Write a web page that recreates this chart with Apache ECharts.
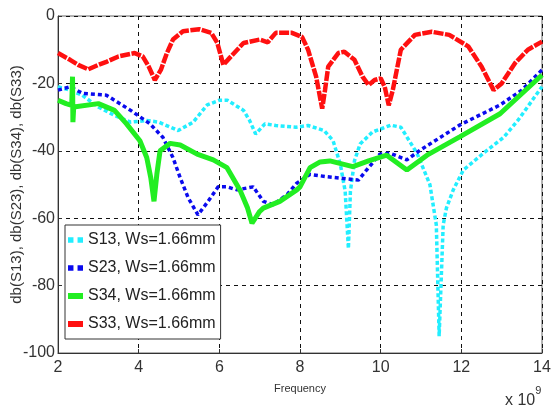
<!DOCTYPE html>
<html>
<head>
<meta charset="utf-8">
<script src="https://cdn.jsdelivr.net/npm/echarts@6/dist/echarts.min.js"></script>
<style>
  html, body { margin: 0; padding: 0; background: #fff; }
  #chart { width: 551px; height: 412px; }
</style>
</head>
<body>
<div id="chart"></div>
<script>
// frequency in GHz (axis shows x 10^9), values in dB
var xTicks = [2, 4, 6, 8, 10, 12, 14]
var yTicks = [-100, -80, -60, -40, -20, 0]

var s13Freq = [2.0, 2.3, 2.6, 3.0, 3.4, 3.8, 4.2, 4.5, 4.98, 5.35, 5.7, 6.0, 6.2, 6.6, 6.75, 6.9, 7.13, 7.4, 7.9, 8.2, 8.6, 8.82, 9.0, 9.12, 9.2, 9.25, 9.35, 9.49, 9.8, 10.25, 10.5, 10.9, 11.22, 11.38, 11.45, 11.55, 11.63, 11.8, 12.05, 12.55, 13.05, 13.4, 13.7, 14.0]
var s13Db = [-21, -22, -23.5, -27, -29.5, -31.5, -31, -31.5, -34, -31.5, -26.4, -25, -25, -28, -31, -35, -32, -32.5, -33, -32.5, -34, -37, -44, -52, -69, -52, -43, -38, -34.4, -32.4, -33, -40.7, -50, -62, -95, -62, -57, -51.6, -45.7, -40.7, -36, -31, -26, -21]

var s23Freq = [2.0, 2.3, 2.62, 3.2, 3.8, 4.28, 4.6, 4.85, 5.03, 5.23, 5.47, 5.69, 5.97, 6.19, 6.44, 6.84, 7.09, 7.33, 7.68, 7.92, 8.25, 8.67, 9.45, 9.65, 9.98, 10.23, 10.65, 10.98, 11.97, 12.96, 13.5, 14.0]
var s23Db = [-22, -21, -23, -23.5, -28, -32, -36, -42, -48, -54, -59, -55.5, -50.7, -50.7, -51.6, -50.7, -55, -56, -53, -49.6, -47, -47.7, -48.7, -45.7, -41, -40.7, -42.7, -39.8, -32.3, -26.4, -22, -16]

var s34Freq = [2.0, 2.2, 2.34, 2.36, 2.37, 2.39, 3.0, 3.4, 3.7, 4.03, 4.2, 4.3, 4.38, 4.45, 4.53, 4.78, 5.03, 5.45, 5.85, 6.19, 6.51, 6.7, 6.81, 7.0, 7.09, 7.5, 7.92, 8.0, 8.25, 8.5, 8.74, 9.31, 9.7, 10.15, 10.65, 11.15, 11.97, 12.96, 14.0]
var s34Db = [-25, -26, -26.5, -18, -31.5, -27, -26, -28, -32, -37, -42, -48, -55, -47, -40, -37.8, -38.3, -41, -42.7, -45, -51.6, -57, -61.5, -58, -57, -55, -51.6, -50.7, -45, -43.3, -43, -44.7, -43, -41.3, -45.7, -41.3, -35.8, -29, -17.5]

var s33Freq = [2.0, 2.3, 2.5, 2.75, 3.0, 3.2, 3.5, 3.9, 4.1, 4.25, 4.4, 4.55, 4.7, 4.85, 5.1, 5.5, 5.8, 5.95, 6.1, 6.25, 6.6, 7.0, 7.2, 7.4, 7.8, 8.05, 8.2, 8.4, 8.55, 8.62, 8.7, 8.95, 9.1, 9.35, 9.55, 9.7, 9.85, 10.0, 10.1, 10.2, 10.3, 10.5, 10.85, 11.27, 11.7, 12.17, 12.5, 12.8, 13.0, 13.33, 13.65, 14.0]
var s33Db = [-11, -13, -14.5, -15.8, -14.5, -13.6, -12, -11, -12, -15, -19, -16, -11, -7, -4.5, -3.9, -5, -8, -14.5, -12.5, -8, -7, -7.8, -5, -5, -6.2, -10, -18, -27.5, -22, -15, -11, -10.6, -13, -18, -20.5, -19, -18.5, -21, -26.5, -22, -10, -5.6, -4.7, -5.6, -9, -15, -22, -20, -14, -10, -7.6]

var seriesNames = ['S13, Ws=1.66mm', 'S23, Ws=1.66mm', 'S34, Ws=1.66mm', 'S33, Ws=1.66mm']
var colorList = ['#22eeff', '#0a0aee', '#22ee22', '#ff1010']

function pairs (xs, ys) {
  return xs.map(function (x, i) { return [x, ys[i]] })
}

var textFont = '"Liberation Sans", Arial, sans-serif'
var chart = echarts.init(document.getElementById('chart'))

var option = {
  animation: false,
  backgroundColor: '#fff',
  color: colorList,
  grid: {
    left: 58,
    right: 9,
    top: 16,
    bottom: 59,
    containLabel: false,
    outerBoundsMode: 'none',
    show: true,
    borderColor: '#666',
    borderWidth: 1
  },
  legend: {
    orient: 'vertical',
    left: 65,
    top: 225,
    padding: [5, 5, 5, 3],
    itemGap: 8,
    itemWidth: 15,
    itemHeight: 6,
    backgroundColor: '#fff',
    borderColor: '#333',
    borderWidth: 1,
    borderRadius: 0,
    textStyle: {
      fontFamily: textFont,
      fontSize: 16,
      lineHeight: 20,
      color: '#222'
    },
    data: [
      { name: seriesNames[0], icon: 'path://M0,0h4v4h-4z M7,0h4v4h-4z', itemStyle: { color: colorList[0] } },
      { name: seriesNames[1], icon: 'path://M0,0h4v4h-4z M7,0h4v4h-4z', itemStyle: { color: colorList[1] } },
      { name: seriesNames[2], icon: 'rect', itemStyle: { color: colorList[2] } },
      { name: seriesNames[3], icon: 'rect', itemStyle: { color: colorList[3] } }
    ]
  },
  xAxis: {
    type: 'value',
    min: 2,
    max: 14,
    interval: 2,
    name: 'Frequency',
    nameLocation: 'middle',
    nameGap: 30,
    nameMoveOverlap: false,
    nameTextStyle: {
      fontFamily: textFont,
      fontSize: 11,
      color: '#333'
    },
    axisLine: { show: true, onZero: false, lineStyle: { color: '#333', width: 1 } },
    axisTick: { show: true, inside: true, length: 4, lineStyle: { color: '#333' } },
    axisLabel: {
      margin: 7,
      fontFamily: textFont,
      fontSize: 16,
      color: '#333',
      formatter: function (v) { return xTicks.indexOf(v) >= 0 ? String(v) : '' }
    },
    splitLine: { show: true, lineStyle: { color: '#111', type: [4, 4], width: 1 } }
  },
  yAxis: {
    type: 'value',
    min: -100,
    max: 0,
    interval: 20,
    name: 'db(S13), db(S23), db(S34), db(S33)',
    nameLocation: 'middle',
    nameGap: 34,
    nameMoveOverlap: false,
    nameTextStyle: {
      fontFamily: textFont,
      fontSize: 15,
      color: '#333'
    },
    axisLine: { show: true, lineStyle: { color: '#333', width: 1 } },
    axisTick: { show: true, inside: true, length: 4, lineStyle: { color: '#333' } },
    axisLabel: {
      margin: 3,
      fontFamily: textFont,
      fontSize: 16,
      color: '#333',
      formatter: function (v) { return yTicks.indexOf(v) >= 0 ? String(v) : '' }
    },
    splitLine: { show: true, lineStyle: { color: '#111', type: [4, 4], width: 1 } }
  },
  graphic: [
    {
      type: 'text',
      left: 505,
      top: 385,
      style: {
        text: '{b|x 10}{s|9}',
        rich: {
          b: { fontFamily: textFont, fontSize: 16, fill: '#333', verticalAlign: 'bottom', padding: [8, 0, 0, 0] },
          s: { fontFamily: textFont, fontSize: 11, fill: '#333', verticalAlign: 'top' }
        }
      }
    }
  ],
  series: [
    {
      name: seriesNames[0],
      type: 'line',
      symbol: 'none',
      z: 3,
      lineStyle: { color: colorList[0], width: 3.5, type: [4, 2.5] },
      data: pairs(s13Freq, s13Db)
    },
    {
      name: seriesNames[1],
      type: 'line',
      symbol: 'none',
      z: 4,
      lineStyle: { color: colorList[1], width: 3.5, type: [4, 3] },
      data: pairs(s23Freq, s23Db)
    },
    {
      name: seriesNames[2],
      type: 'line',
      symbol: 'none',
      z: 5,
      lineStyle: { color: colorList[2], width: 5 },
      data: pairs(s34Freq, s34Db)
    },
    {
      name: seriesNames[3],
      type: 'line',
      symbol: 'none',
      z: 6,
      lineStyle: { color: colorList[3], width: 4.5, type: [10, 1.5] },
      data: pairs(s33Freq, s33Db)
    }
  ]
}

chart.setOption(option)
</script>
</body>
</html>
